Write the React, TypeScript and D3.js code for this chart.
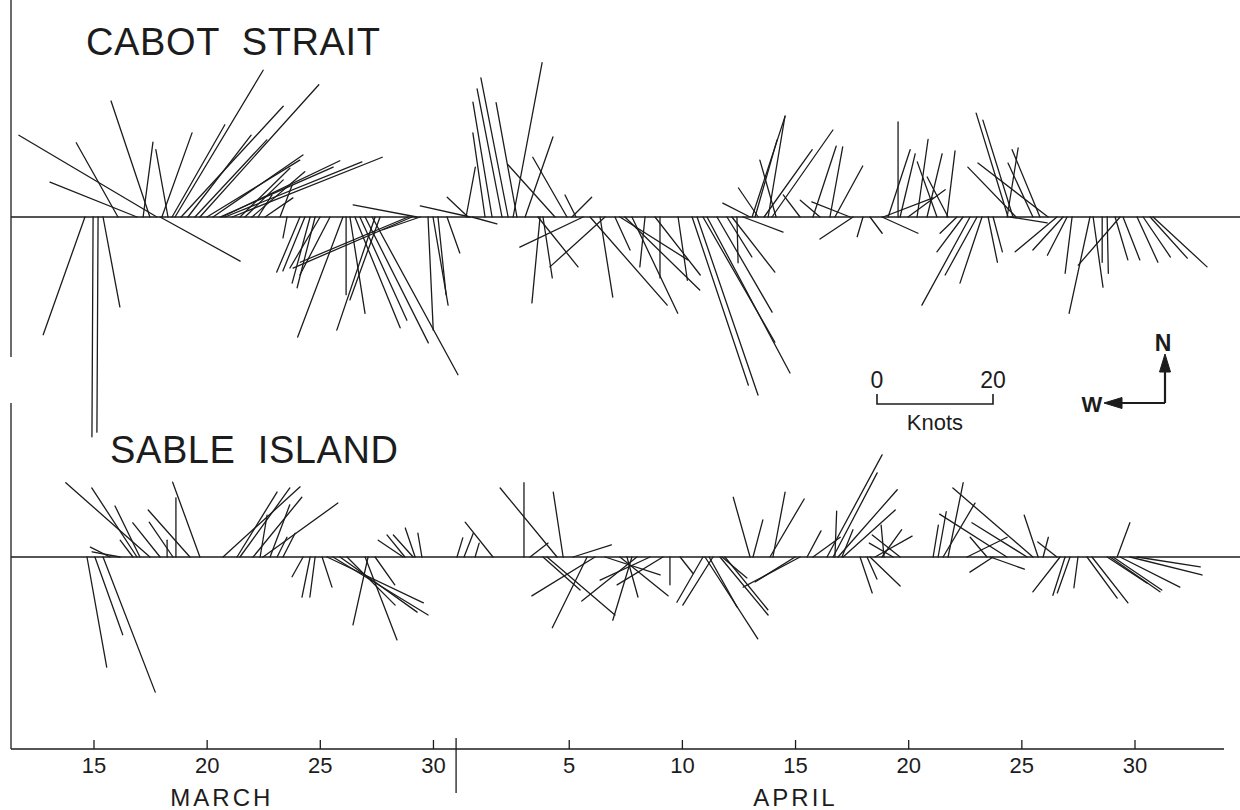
import React from 'react';
import * as d3 from 'd3';

// wind sticks: [day (March day numbers, April = 31 + day), u east knots, v north knots]
const cabotSticks = [
  [14.6, -7.2, -20.3], [14.96, -0.2, -37.9], [15.18, -0.2, -37.1], [15.4, 2.9, -15.5], [16.06, -7.2, 12.8],
  [16.9, -15.0, 6.0], [17.17, 1.7, 12.9], [17.47, -6.7, 20.0], [17.78, -23.8, 14.1], [17.92, 13.8, -7.6],
  [18.0, 5.2, 14.5], [18.27, -2.1, 11.6], [18.45, 9.1, 15.9], [18.58, 15.2, 25.3], [18.85, 17.6, 19.1],
  [19.15, 10.9, 14.1], [19.46, 12.4, 13.3], [19.68, 20.5, 22.8], [19.99, 16.0, 9.8], [20.26, 15.5, 10.7],
  [20.57, 19.5, 8.6], [20.66, 20.3, 9.7], [20.79, 23.6, 9.5], [21.1, 25.9, 10.3], [21.45, 8.6, 8.4],
  [21.67, 6.6, 6.4], [21.98, 9.1, 7.8], [22.25, 2.4, 3.8], [22.56, 4.8, 3.3], [23.22, 2.1, 5.5],
  [23.53, -0.7, -3.6], [24.1, -4.0, -9.5], [24.32, -3.8, -9.3], [24.55, -3.1, -11.4], [24.77, -3.1, -12.2],
  [24.99, -5.2, -8.8], [25.43, -5.2, -10.0], [26.0, -7.8, -20.7], [26.14, 0, -13.4], [26.31, 2.6, -16.6],
  [26.53, 7.8, -19.1], [26.75, 8.1, -17.8], [26.98, 10.9, -21.7], [27.29, 14.8, -27.2], [27.42, -6.6, -19.5],
  [27.64, -5.2, -14.3], [28.88, -18.6, -7.8], [29.05, -20.5, -8.8], [29.27, -11.0, 2.1], [29.41, -6.4, -2.2],
  [29.76, 0.9, -19.5], [29.98, 2.6, -15.2], [30.2, 1.4, -13.4], [30.6, 2.2, -6.2],
  [31.44, 1.6, 8.6], [31.53, -3.6, 3.4], [31.62, -8.6, 1.9], [31.7, 4.3, -1.2], [32.28, -2.1, 14.5],
  [32.59, -3.3, 19.8], [33.03, -4.3, 22.1], [33.3, -4.7, 24.0], [33.52, 5.0, 26.6], [33.69, -3.6, 19.7],
  [34.05, 4.8, 13.8], [34.62, 6.9, -8.6], [34.71, -1.4, -14.8], [34.84, 1.6, -10.5], [35.37, -8.1, 9.0],
  [35.9, -5.9, 10.3], [36.12, 3.4, 3.4], [36.3, -1.9, 3.8], [36.61, -10.9, -5.2], [36.92, 13.3, -15.2],
  [37.36, 2.2, -13.8], [37.58, -9.5, -8.6], [38.02, 2.6, -5.7], [38.24, 11.7, -7.4], [38.46, 12.9, -12.6],
  [38.77, 7.9, -16.6], [39.35, -0.9, -8.6], [39.79, 7.8, -10.0], [40.01, 0, -10.5], [40.81, 1.6, -10.9],
  [41.43, 9.7, -29.0], [41.65, 10.5, -30.7], [41.91, 12.4, -21.6], [42.09, 14.3, -26.9], [42.53, 9.5, -16.4],
  [42.97, 4.3, -6.9], [43.19, 7.4, -9.5], [43.41, 0.2, -7.9], [43.68, 6.9, -2.6],
  [43.99, -4.7, 2.4], [44.08, 5.7, 17.4], [44.21, 3.8, 13.3], [44.35, -3.4, 5.0], [44.61, 8.3, 11.6],
  [44.79, 2.9, 17.4], [44.96, 10.5, 15.0], [45.14, -2.8, 9.8], [46.2, -2.9, 3.8], [46.77, 4.0, 12.2],
  [47.08, -3.4, 2.9], [47.52, 2.2, 12.1], [47.74, 4.8, 8.8], [48.41, -6.6, 2.6],
  [48.54, -5.7, -3.8], [48.98, -1.0, -3.4], [49.29, 2.1, -2.8], [49.82, 6.2, -2.8], [49.87, 8.6, 3.3],
  [50.09, 3.8, 11.6], [50.53, 0, 16.4], [50.62, 2.6, 10.9], [50.97, 6.4, 4.7], [51.37, 1.9, 13.4],
  [51.81, 2.6, 10.9], [52.25, -3.4, 9.5], [52.69, 1.4, 11.4], [52.74, -3.6, 6.9],
  [53.13, -2.9, -2.8], [53.4, -4.5, -6.0], [53.71, -8.3, -15.2], [54.02, -5.5, -10.0], [54.24, -3.8, -11.4],
  [54.51, 1.6, -7.8], [54.73, 1.6, -6.0],
  [55.35, 1.9, 11.9], [55.39, -5.5, 17.9], [55.48, 6.4, -1.0], [55.61, -5.2, 16.7], [55.74, -8.3, 8.6],
  [56.49, -4.3, 9.3], [56.8, -4.8, 11.6], [57.16, -12.1, 9.3],
  [57.55, -7.2, -6.0], [57.82, -5.2, -5.7], [58.0, -3.4, -6.6], [58.22, -1.2, -9.7], [59.01, -3.6, -16.6],
  [59.15, 1.7, -12.1], [59.55, 0, -7.8], [59.77, 0.2, -9.7], [60.12, 2.2, -7.4], [60.34, -7.2, -8.3],
  [60.47, 2.9, -7.4], [61.09, 3.6, -7.8], [61.36, 4.7, -6.9], [61.67, 6.4, -7.1], [61.8, 9.3, -8.6],
];

const sableSticks = [
  [14.69, 3.4, -19.0], [15.04, 4.8, -13.4], [15.4, 9.0, -23.3], [15.71, -3.4, 1.7], [16.15, -4.8, 0.9],
  [16.72, -2.2, 2.9], [16.9, -7.8, 11.9], [17.03, -4.3, 8.8], [17.47, -14.5, 12.8], [17.92, -4.7, 5.9],
  [18.23, 0, 2.9], [18.49, -4.1, 6.0], [18.62, 0, 10.2], [19.24, -7.2, 8.1], [19.68, -4.7, 12.9],
  [20.7, 13.3, 12.1], [21.32, 6.9, 11.2], [21.45, 8.6, 11.9], [22.03, 8.4, 10.3], [22.34, 1.2, 7.2],
  [22.47, 12.9, 9.3], [22.78, 3.4, 9.0], [23.09, 1.7, 3.4], [23.35, 2.1, 4.1],
  [24.24, -1.9, -3.4], [24.55, -1.4, -6.9], [24.77, -0.9, -6.9], [25.08, 1.7, -5.2], [25.3, 16.6, -7.9],
  [25.56, 16.4, -10.0], [25.87, 13.3, -9.5], [26.18, 8.3, -8.3], [26.98, 5.5, -14.3], [27.11, -2.6, -11.7],
  [27.42, 3.4, -4.8],
  [28.66, -4.3, 2.9], [28.74, -3.1, 3.8], [29.1, -3.4, 3.8], [29.19, -1.7, 5.0], [29.49, -0.7, 4.1],
  [31.04, 1.0, 3.3], [31.35, 1.6, 4.1], [31.84, 0.7, 2.4], [32.63, -4.8, 6.0], [34.0, 0, 12.8],
  [34.27, 3.1, 2.4], [35.46, -9.8, 11.9], [35.73, -1.7, 11.2], [36.17, 6.6, 2.1],
  [34.84, 6.4, -5.7], [35.02, 11.7, -10.0], [36.79, -6.0, -12.2], [37.14, -10.9, -6.7], [37.58, 9.5, -3.1],
  [38.24, 8.3, -6.7], [38.55, 1.9, -6.9], [38.77, -3.3, -10.9], [38.99, -9.5, -7.6], [39.57, -8.6, -4.0],
  [40.14, -7.9, -4.8], [40.45, 0, -4.8], [40.9, 2.2, -2.8], [41.91, -4.5, -7.8], [42.0, 9.1, -14.1],
  [42.18, 4.8, -8.6], [42.35, -5.2, -8.3], [42.66, 8.3, -10.0], [42.75, 4.3, -3.6], [42.88, 7.4, -9.1],
  [45.98, -6.9, -4.3], [46.2, -9.8, -5.2],
  [43.99, -2.9, 10.3], [44.12, 1.7, 6.4], [44.87, 5.9, 10.0], [45.0, 2.1, 11.2], [46.51, 2.4, 4.5],
  [46.77, 4.7, 3.4], [47.39, 9.5, 17.6], [47.66, 7.6, 14.5], [47.74, 0.3, 7.9], [47.88, 10.2, 11.6],
  [48.05, 1.9, 4.7], [48.1, 9.0, 8.1],
  [48.85, 2.1, -6.2], [49.16, 1.7, -3.8], [49.29, 5.2, -5.0],
  [49.51, 6.4, 3.6], [49.82, 3.4, 4.7], [49.91, -0.5, 5.5], [50.31, -4.1, 2.4], [50.62, -4.8, 3.8],
  [52.08, 0.9, 5.5], [52.3, 1.4, 7.8], [52.52, 5.5, 9.3], [52.74, 2.6, 12.8], [53.58, 6.9, 3.4],
  [54.46, -2.9, 3.4], [55.34, -11.6, 7.4], [56.23, -9.5, 5.9], [56.49, -13.8, 11.9], [56.72, -2.4, 7.2],
  [56.94, 0.9, 3.4], [57.55, -3.3, 2.6], [60.21, 2.2, 5.9],
  [54.6, 5.9, -2.1], [54.73, -4.0, -2.6], [57.69, -4.7, -6.0], [57.91, -2.1, -6.6], [58.13, -2.2, -6.2],
  [58.48, -0.7, -5.3], [58.88, 5.2, -7.1], [59.1, 6.2, -7.9], [59.77, 6.9, -4.5], [59.9, 8.6, -6.0],
  [60.03, 8.4, -5.7], [60.34, 10.3, -5.2], [60.78, 12.4, -3.1], [61.09, 10.9, -1.7],
];

const tickDays = [15, 20, 25, 30, 36, 41, 46, 51, 56, 61];
const tickLabels = ['15', '20', '25', '30', '5', '10', '15', '20', '25', '30'];
const monthBreak = 31;
const months = [
  { name: 'MARCH', day: 20.65 },
  { name: 'APRIL', day: 46 },
];
const scaleKnots = [0, 20];

const W = 1240;
const H = 810;
const FONT = "'Liberation Sans', Arial, sans-serif";
const INK = '#1c1c1c';

const x = d3.scaleLinear().domain([15, 61]).range([94, 1135]);
const k = d3.scaleLinear().domain([0, 20]).range([0, 116]);

const axisLeft = 11;
const axisRight = 1224;
const axisY = 749;

const panels = [
  { name: 'CABOT  STRAIT', data: cabotSticks, base: 217, tx: 86, ty: 55, tw: 294 },
  { name: 'SABLE  ISLAND', data: sableSticks, base: 557, tx: 110, ty: 463, tw: 288 },
];

const Sticks = ({ data, base }) => (
  <g stroke={INK} strokeWidth={1.3} strokeLinecap="round">
    {data.map(([d, u, v], i) => (
      <line key={i} x1={x(d)} y1={base} x2={x(d) + k(u)} y2={base - k(v)} />
    ))}
  </g>
);

export default function App() {
  const sx0 = 877;
  const sy = 404;
  const cx = 1165;
  const cy = 403;
  return (
    <svg
      width={W}
      height={H}
      viewBox={`0 0 ${W} ${H}`}
      style={{ position: 'absolute', left: 0, top: 0, background: '#fff' }}
      fontFamily={FONT}
    >
      <rect width={W} height={H} fill="#fff" />

      {/* left frame, broken between the panels */}
      <g stroke={INK} strokeWidth={1.3}>
        <line x1={axisLeft} y1={0} x2={axisLeft} y2={357} />
        <line x1={axisLeft} y1={403} x2={axisLeft} y2={axisY} />
        <line x1={axisLeft} y1={axisY} x2={axisRight} y2={axisY} />
        {tickDays.map(d => (
          <line key={d} x1={x(d)} y1={axisY - 9} x2={x(d)} y2={axisY} />
        ))}
        <line x1={x(monthBreak)} y1={axisY - 11} x2={x(monthBreak)} y2={793} />
      </g>

      {tickLabels.map((t, i) => (
        <text key={i} x={x(tickDays[i])} y={773} fontSize={22} textAnchor="middle" fill={INK}>
          {t}
        </text>
      ))}
      {months.map(m => (
        <text key={m.name} x={x(m.day)} y={806} fontSize={24} textAnchor="middle" letterSpacing={3} fill={INK}>
          {m.name}
        </text>
      ))}

      {panels.map(p => (
        <g key={p.name}>
          <line x1={axisLeft} y1={p.base} x2={W} y2={p.base} stroke={INK} strokeWidth={1.3} />
          <Sticks data={p.data} base={p.base} />
          <text
            x={p.tx}
            y={p.ty}
            fontSize={38}
            textLength={p.tw}
            lengthAdjust="spacing"
            fill={INK}
            style={{ whiteSpace: 'pre' }}
          >
            {p.name}
          </text>
        </g>
      ))}

      {/* knots scale */}
      <g stroke={INK} strokeWidth={1.6} fill="none">
        <path d={`M${sx0},${sy - 10}V${sy}H${sx0 + k(scaleKnots[1])}V${sy - 10}`} />
      </g>
      <text x={sx0} y={388} fontSize={23} textAnchor="middle" fill={INK}>{scaleKnots[0]}</text>
      <text x={sx0 + k(scaleKnots[1])} y={388} fontSize={23} textAnchor="middle" fill={INK}>{scaleKnots[1]}</text>
      <text x={sx0 + k(scaleKnots[1]) / 2} y={430} fontSize={22} textAnchor="middle" fill={INK}>Knots</text>

      {/* compass */}
      <g stroke={INK} strokeWidth={2.2} fill={INK}>
        <line x1={cx} y1={cy} x2={cx} y2={368} />
        <line x1={cx} y1={cy} x2={1118} y2={cy} />
        <path d={`M${cx},354 L${cx - 5.5},372 L${cx + 5.5},372 Z`} strokeWidth={1} />
        <path d={`M1104,${cy} L1122,${cy - 5.5} L1122,${cy + 5.5} Z`} strokeWidth={1} />
      </g>
      <text x={1163} y={351} fontSize={23} fontWeight="bold" textAnchor="middle" fill={INK}>N</text>
      <text x={1092} y={412} fontSize={22} fontWeight="bold" textAnchor="middle" fill={INK}>W</text>
    </svg>
  );
}
